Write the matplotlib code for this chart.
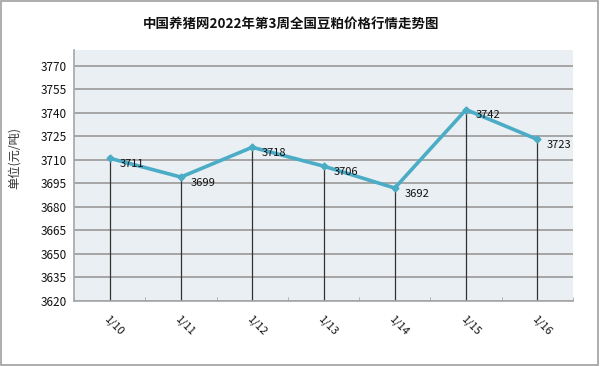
import matplotlib
matplotlib.use("Agg")
import matplotlib.pyplot as plt
from matplotlib.patches import Rectangle
import numpy as np

plt.rcParams['font.family'] = ['Noto Sans CJK SC', 'DejaVu Sans']

# datos del gráfico
fechas = ['1/10', '1/11', '1/12', '1/13', '1/14', '1/15', '1/16']
precios = [3711, 3699, 3718, 3706, 3692, 3742, 3723]
ticks_y = [3620, 3635, 3650, 3665, 3680, 3695, 3710, 3725, 3740, 3755, 3770]

fig = plt.figure(figsize=(6, 3.66), dpi=100)
ax = fig.add_axes([74 / 600, 1 - 301 / 366, 499 / 600, 251 / 366])

x = np.arange(len(fechas))
ax.set_facecolor('#E9EFF3')
for v in ticks_y:
    ax.axhline(v, color='#A6A6A6', linewidth=1.4, zorder=1)
ax.vlines(x, ticks_y[0], precios, color='#333333', linewidth=0.9, zorder=2)
ax.plot(x, precios, color='#4BACC6', linewidth=2.6, marker='D', markersize=3.5,
        markerfacecolor='#4BACC6', markeredgecolor='#4BACC6', zorder=3)
for xi, p in zip(x, precios):
    ax.annotate(str(p), (xi, p), xytext=(7, -4), textcoords='offset points',
                fontsize=8, va='center', ha='left', color='#111111', zorder=4)

ax.set_xlim(-0.5, len(fechas) - 0.5)
ax.set_ylim(3620, 3780)
ax.set_yticks(ticks_y)
ax.set_yticklabels([str(v) for v in ticks_y], fontsize=8.5, color='#111111')
ax.set_xticks(x)
ax.set_xticklabels(fechas, fontsize=8, rotation=-45, ha='left', rotation_mode='anchor',
                   color='#111111')
ax.set_xticks(np.arange(-0.5, len(fechas)), minor=True)
ax.tick_params(axis='x', which='major', length=0, pad=9)
ax.tick_params(axis='x', which='minor', length=3, direction='in', color='#A6A6A6')
ax.tick_params(axis='y', length=0, pad=5)
for s in ['top', 'right']:
    ax.spines[s].set_visible(False)
for s in ['left', 'bottom']:
    ax.spines[s].set_color('#A6A6A6')
    ax.spines[s].set_linewidth(1.2)

fig.text(14 / 600, 1 - 158 / 366, '单位(元/吨)', rotation=90, ha='center', va='center',
         fontsize=8.8, color='#333333')
fig.text(291 / 600, 1 - 24 / 366, '中国养猪网2022年第3周全国豆粕价格行情走势图',
         ha='center', va='center', fontsize=9.7, fontweight='bold', color='#111111')

fig.patches.append(Rectangle((0.002, 0.003), 0.995, 0.993, transform=fig.transFigure,
                             fill=False, edgecolor='#A0A0A0', linewidth=1.2))

fig.savefig('out.png', dpi=100)
